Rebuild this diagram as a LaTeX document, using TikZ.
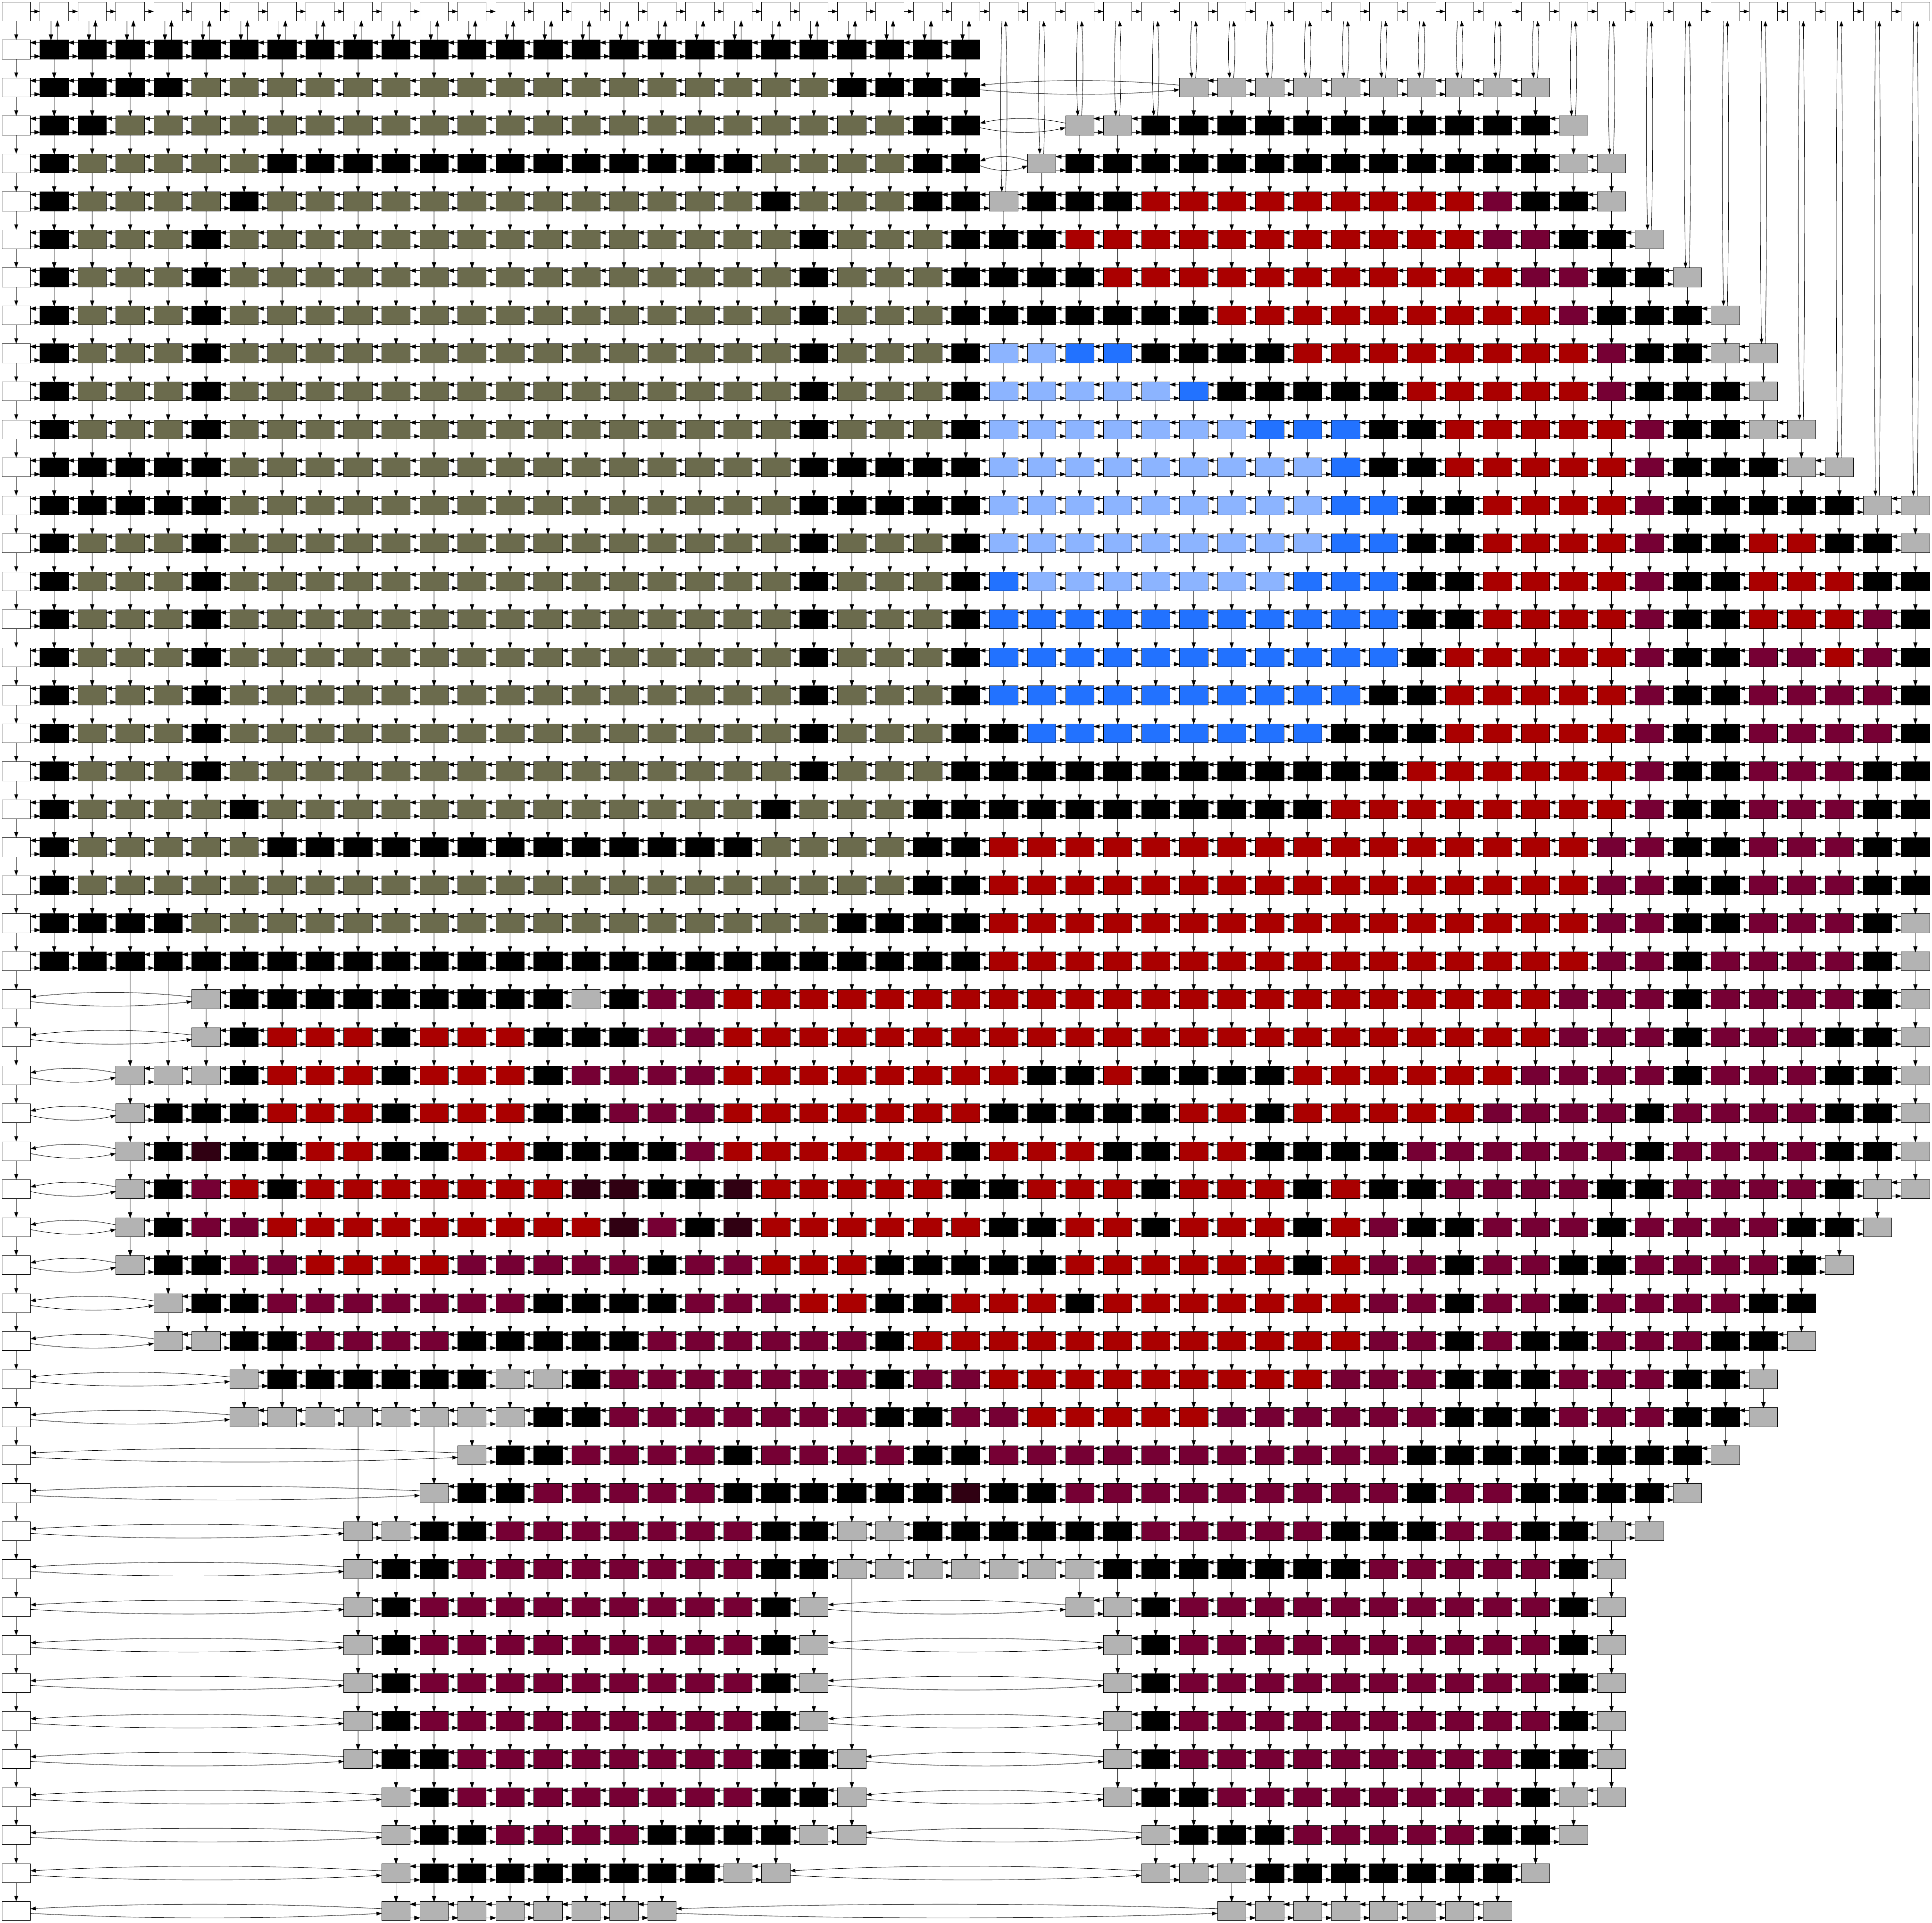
\documentclass[tikz,border=0pt]{standalone}
\usetikzlibrary{arrows.meta}
\definecolor{cellK}{HTML}{000000}
\definecolor{cellO}{HTML}{6B6B4D}
\definecolor{cellR}{HTML}{AA0000}
\definecolor{cellM}{HTML}{760034}
\definecolor{cellL}{HTML}{8CB4FF}
\definecolor{cellB}{HTML}{2272FF}
\definecolor{cellG}{HTML}{B3B3B3}
\definecolor{cellD}{HTML}{300012}

\newcount\rowno
\newcount\colno
% one grid row: a letter gives the fill of its cell, a dot leaves the place empty
\newcommand{\gridrow}[1]{%
  \global\advance\rowno by 1\relax
  \colno=0\relax
  \def\prevcol{0}%
  \readcell#1\relax}
\def\readcell#1{%
  \ifx#1\relax\else
    \advance\colno by 1\relax
    \if#1.\else\putcell{#1}\fi
    \expandafter\readcell
  \fi}
\newcommand{\putcell}[1]{%
  \edef\rr{\the\rowno}\edef\cc{\the\colno}%
  \coordinate (n\rr-\cc) at (\cc in,-\rr in);
  \filldraw[fill=cell#1] ([shift={(-0.375in,-0.25in)}]n\rr-\cc.center) rectangle ++(0.75in,0.5in);
  % links along the row
  \ifnum\numexpr\cc-\prevcol\relax=1
    \filldraw ([shift={(-0.375in,0.18in)}]n\rr-\cc.center) -- ([shift={(0.514in,0.18in)}]n\rr-\prevcol.center)
      ([shift={(0.375in,0.18in)}]n\rr-\prevcol.center) -- ++(0.139in,0.05in) -- ++(0,-0.1in) -- cycle
      ([shift={(0.375in,-0.18in)}]n\rr-\prevcol.center) -- ([shift={(-0.514in,-0.18in)}]n\rr-\cc.center)
      ([shift={(-0.375in,-0.18in)}]n\rr-\cc.center) -- ++(-0.139in,0.05in) -- ++(0,-0.1in) -- cycle;
  \else
    \pgfmathsetmacro\reach{(\cc-\prevcol-0.75)/3}%
    \draw[link] ([shift={(-0.375in,0.06in)}]n\rr-\cc.center) .. controls +(-\reach in,0.16in) and +(\reach in,0.16in) .. ([shift={(0.375in,0.06in)}]n\rr-\prevcol.center);
    \draw[link] ([shift={(0.375in,-0.06in)}]n\rr-\prevcol.center) .. controls +(\reach in,-0.16in) and +(-\reach in,-0.16in) .. ([shift={(-0.375in,-0.06in)}]n\rr-\cc.center);
  \fi
  \edef\prevcol{\cc}%
  % links down the column
  \edef\above{\csname above\cc\endcsname}%
  \ifnum\above=0
    \ifnum\rr=1
      \filldraw ([shift={(-0.085in,-0.25in)}]n0-\cc.center) -- ([shift={(-0.085in,0.389in)}]n\rr-\cc.center)
        ([shift={(-0.085in,0.25in)}]n\rr-\cc.center) -- ++(-0.05in,0.139in) -- ++(0.1in,0) -- cycle
        ([shift={(0.085in,0.25in)}]n\rr-\cc.center) -- ([shift={(0.085in,-0.389in)}]n0-\cc.center)
        ([shift={(0.085in,-0.25in)}]n0-\cc.center) -- ++(-0.05in,-0.139in) -- ++(0.1in,0) -- cycle;
    \else
      \pgfmathsetmacro\reach{(\rr-0.5)/3}%
      \draw[link] ([shift={(-0.05in,-0.25in)}]n0-\cc.center) .. controls +(-0.045in,-\reach in) and +(-0.045in,\reach in) .. ([shift={(-0.05in,0.25in)}]n\rr-\cc.center);
      \draw[link] ([shift={(0.05in,0.25in)}]n\rr-\cc.center) .. controls +(0.045in,\reach in) and +(0.045in,-\reach in) .. ([shift={(0.05in,-0.25in)}]n0-\cc.center);
    \fi
  \else
    \filldraw ([yshift=-0.25in]n\above-\cc.center) -- ([yshift=0.389in]n\rr-\cc.center)
      ([yshift=0.25in]n\rr-\cc.center) -- ++(-0.05in,0.139in) -- ++(0.1in,0) -- cycle;
  \fi
  \expandafter\xdef\csname above\cc\endcsname{\rr}%
}

\begin{document}
\begin{tikzpicture}[
  line width=0.8pt,
  headbox/.style={rectangle,draw=black,fill=white,minimum width=0.75in,minimum height=0.5in,inner sep=0pt},
  link/.style={-{Triangle[length=0.139in,width=0.1in]}}
]
\useasboundingbox (-0.427in,0.302in) rectangle (50.438in,-50.313in);
% heads of the columns and of the rows
\foreach \c in {0,...,50} {
  \node[headbox] (n0-\c) at (\c in,0) {};
  \expandafter\xdef\csname above\c\endcsname{0}
}
\foreach \r in {1,...,50}
  \node[headbox] (n\r-0) at (0,-\r in) {};
\foreach \c [remember=\c as \b (initially 0)] in {1,...,50}
  \draw[link] (n0-\b) -- (n0-\c);
\foreach \r [remember=\r as \q (initially 0)] in {1,...,50}
  \draw[link] (n\q-0) -- (n\r-0);
% the cells, one row each
\rowno=0
\gridrow{KKKKKKKKKK KKKKKKKKKK KKKKK..... .......... ..........}
\gridrow{KKKKOOOOOO OOOOOOOOOO OKKKK..... GGGGGGGGGG ..........}
\gridrow{KKOOOOOOOO OOOOOOOOOO OOOKK..GGK KKKKKKKKKK G.........}
\gridrow{KOOOOOKKKK KKKKKKKKKO OOOKK.GKKK KKKKKKKKKK GG........}
\gridrow{KOOOOKOOOO OOOOOOOOOK OOOKKGKKKR RRRRRRRRMK KG........}
\gridrow{KOOOKOOOOO OOOOOOOOOO KOOOKKKRRR RRRRRRRRMM KKG.......}
\gridrow{KOOOKOOOOO OOOOOOOOOO KOOOKKKKRR RRRRRRRRRM MKKG......}
\gridrow{KOOOKOOOOO OOOOOOOOOO KOOOKKKKKK KRRRRRRRRR MKKKG.....}
\gridrow{KOOOKOOOOO OOOOOOOOOO KOOOKLLBBK KKKRRRRRRR RMKKGG....}
\gridrow{KOOOKOOOOO OOOOOOOOOO KOOOKLLLLL BKKKKKRRRR RMKKKG....}
\gridrow{KOOOKOOOOO OOOOOOOOOO KOOOKLLLLL LLBBBKKRRR RRMKKGG...}
\gridrow{KKKKKOOOOO OOOOOOOOOO KKKKKLLLLL LLLLBKKRRR RRMKKKGG..}
\gridrow{KKKKKOOOOO OOOOOOOOOO KKKKKLLLLL LLLLBBKKRR RRMKKKKKGG}
\gridrow{KOOOKOOOOO OOOOOOOOOO KOOOKLLLLL LLLLBBKKRR RRMKKRRKKG}
\gridrow{KOOOKOOOOO OOOOOOOOOO KOOOKBLLLL LLLBBBKKRR RRMKKRRRKK}
\gridrow{KOOOKOOOOO OOOOOOOOOO KOOOKBBBBB BBBBBBKKRR RRMKKRRRMK}
\gridrow{KOOOKOOOOO OOOOOOOOOO KOOOKBBBBB BBBBBBKRRR RRMKKMMRMK}
\gridrow{KOOOKOOOOO OOOOOOOOOO KOOOKBBBBB BBBBBKKRRR RRMKKMMMMK}
\gridrow{KOOOKOOOOO OOOOOOOOOO KOOOKKBBBB BBBBKKKRRR RRMKKMMMMK}
\gridrow{KOOOKOOOOO OOOOOOOOOO KOOOKKKKKK KKKKKKRRRR RRMKKMMMKK}
\gridrow{KOOOOKOOOO OOOOOOOOOK OOOKKKKKKK KKKKRRRRRR RRMKKMMMKK}
\gridrow{KOOOOOKKKK KKKKKKKKKO OOOKKRRRRR RRRRRRRRRR RMMKKMMMKK}
\gridrow{KOOOOOOOOO OOOOOOOOOO OOOKKRRRRR RRRRRRRRRR RMMKKMMMKK}
\gridrow{KKKKOOOOOO OOOOOOOOOO OKKKKRRRRR RRRRRRRRRR RMMKKMMMKG}
\gridrow{KKKKKKKKKK KKKKKKKKKK KKKKKRRRRR RRRRRRRRRR RMMKMMMMKG}
\gridrow{....GKKKKK KKKKGKMMRR RRRRRRRRRR RRRRRRRRRR MMMKMMMMKG}
\gridrow{....GKRRRK RRRKKKMMRR RRRRRRRRRR RRRRRRRRRR MMMKMMMKKG}
\gridrow{..GGGKRRRK RRRKMMMMRR RRRRRRKKRK KKKRRRRRRM MMMKMMMKKG}
\gridrow{..GKKKRRRK RRRKKMMMRR RRRRRKKKKK RRKRRRRRMM MMKMMMMKKG}
\gridrow{..GKDKKRRK KRRKKKKMRR RRRRKRRRKK RRKKKKMMMM MMKMMMMKKG}
\gridrow{..GKMRKRRR RRRRDDKKDR RRRRKKRRRK RRRKRKKMMM MKKMMMMKGG}
\gridrow{..GKMMRRRR RRRRRDMKDR RRRRRKKRRK RRRKRMKKMM MKMMMMKKG.}
\gridrow{..GKKMMRRR RMMMMMKMMR RRKKKKKRRR RRRKRMMKMM KKMMMMKG..}
\gridrow{...GKKMMMM MMMKKKKMMM RRKKRRRKRR RRRRRMMKMM KMMMMKK...}
\gridrow{...GGKKMMM MKKKKKMMMM MMKRRRRRRR RRRRRMMKMK KMMMKKG...}
\gridrow{.....GKKKK KKGGKMMMMM MMKMMRRRRR RRRRMMMKKK MMMKKG....}
\gridrow{.....GGGGG GGGKKMMMMM MMKKMMRRRR RMMMMMMKKK MMMKKG....}
\gridrow{.......... .GKKMMMMKM MMMKKMMMMM MMMMMMKKKK KKKKG.....}
\gridrow{.......... GKKMMMMMKK KKKKDKKMMM MMMMMMKMMK KKKG......}
\gridrow{........GG KKMMMMMMMK KGGKKKKKKM MMMMKKKMMK KGG.......}
\gridrow{........GK KMMMMMMMMK KGGGGGGGKK KKKKKMMMMM KG........}
\gridrow{........GK MMMMMMMMMK G......GGK MMMMMMMMMM KG........}
\gridrow{........GK MMMMMMMMMK G.......GK MMMMMMMMMM KG........}
\gridrow{........GK MMMMMMMMMK G.......GK MMMMMMMMMM KG........}
\gridrow{........GK MMMMMMMMMK G.......GK MMMMMMMMMM KG........}
\gridrow{........GK KMMMMMMMMK KG......GK MMMMMMMMMK KG........}
\gridrow{.........G KMMMMMMMMK KG......GK KMMMMMMMMK GG........}
\gridrow{.........G KKMMMMKKKK GG.......G KKKMMMMMKK G.........}
\gridrow{.........G KKKKKKKKGG .........G GGKKKKKKKG ..........}
\gridrow{.........G GGGGGGG... .......... .GGGGGGGG. ..........}
\end{tikzpicture}
\end{document}
